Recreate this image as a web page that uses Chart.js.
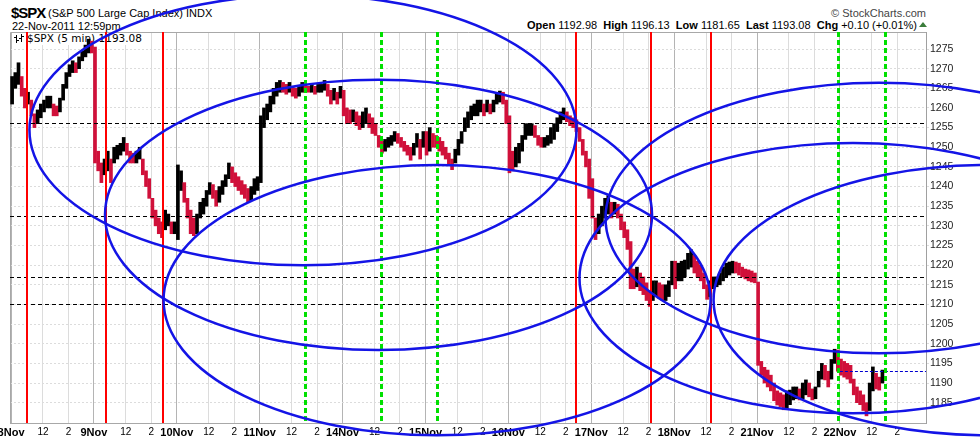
<!DOCTYPE html>
<html>
<head>
<meta charset="UTF-8">
<title>$SPX (5 min)</title>
<script src="https://cdn.jsdelivr.net/npm/chart.js"></script>
<style>
  body { margin: 0; background: #fff; font-family: "Liberation Sans", Arial, sans-serif; }
  #wrap { position: relative; width: 980px; height: 442px; }
  #wrap canvas { position: absolute; left: 0; top: 0; z-index: 2; }
  .t { position: absolute; z-index: 1; white-space: nowrap; color: #000; }
  .tri { position: absolute; z-index: 1; left: 919px; top: 22px; width: 0; height: 0;
         border-left: 4px solid transparent; border-right: 4px solid transparent; border-bottom: 5px solid #3b7d3b; }
</style>
</head>
<body>
<div id="wrap">
  <div class="t" style="left:11px;top:4px;font-size:15px;line-height:18px;font-weight:bold;letter-spacing:-1px">$SPX</div>
  <div class="t" style="left:48px;top:6px;font-size:11px;line-height:14px">(S&amp;P 500 Large Cap Index) INDX</div>
  <div class="t" style="left:12px;top:19px;font-size:11px;line-height:14px">22-Nov-2011 12:59pm</div>
  <div class="t" style="right:54px;top:6px;font-size:11px;line-height:14px;color:#444">© StockCharts.com</div>
  <div class="t" style="right:63px;top:18px;font-size:11px;line-height:14px"><b>Open</b> 1192.98 &nbsp;<b>High</b> 1196.13 &nbsp;<b>Low</b> 1181.65 &nbsp;<b>Last</b> 1193.08 &nbsp;<b>Chg</b> +0.10 (+0.01%)</div>
  <div class="tri"></div>
  <div class="t" style="left:27px;top:32px;font-family:'DejaVu Sans',sans-serif;font-size:10.5px;line-height:13px">$SPX (5 min) 1193.08</div>
  <canvas id="spx" width="980" height="442"></canvas>
</div>

<script>
  // sessions and x-axis tick labels
  const dayLabels = ['8Nov', '9Nov', '10Nov', '11Nov', '14Nov', '15Nov', '16Nov', '17Nov', '18Nov', '21Nov', '22Nov'];
  const hourLabels = ['12', '2'];
  const hourOffsets = [30, 54];          // 5-min bars after the 9:30 open
  const barsPerSession = 78;
  const barsPerSlot = 3;                 // values below are 15-minute ranges

  // 15-minute lows / highs, one row per session
  const lows = [
    [1261,1265,1266,1263,1260,1261,1258,1255,1256,1257.5,1259,1260,1260,1258,1258,1259,1262,1265,1268,1269,1269,1270,1272,1273,1274,1274],
    [1246,1244,1241,1243,1244,1241,1246,1247,1248,1249,1248,1246,1246,1246,1247,1243,1240,1237,1232,1230,1228,1227,1229,1230,1228,1228],
    [1226.5,1239,1236,1232,1228,1227.5,1228,1232,1233,1235,1238,1237,1235,1236,1238,1240,1242,1241,1240,1239,1238,1237,1236,1236.5,1238,1239],
    [1241,1255,1257,1259,1261,1263,1264,1264,1263.5,1264,1263,1262.5,1263,1264,1264,1264,1264,1263.5,1264,1264,1264.5,1263,1261,1262,1261,1262.5],
    [1258,1256,1256,1256.5,1255.5,1254.5,1255,1256,1255,1253.5,1253,1250,1248.5,1249,1250,1250.5,1251.5,1251,1250,1249,1248,1246.7,1248,1250,1247,1250],
    [1248,1249,1250,1250,1249,1248,1247,1245.5,1244.3,1246,1248,1251,1254,1255,1257,1258,1258,1259,1258,1259,1258.5,1259,1261,1261.5,1261,1256],
    [1243.5,1244,1245,1246,1249,1252,1253,1253,1252.5,1250.5,1250,1250,1250.5,1251,1252,1254,1256,1257,1256.5,1255.5,1255,1254,1251.5,1248,1245,1237],
    [1232,1226.5,1228,1230,1232,1233,1232,1233,1232,1229,1227,1224,1214,1214,1214.5,1213.5,1212.5,1211,1209.5,1211,1212,1211.5,1211,1211,1212,1215],
    [1214,1216,1216,1217,1219,1219.5,1218,1217,1216,1214,1211.3,1212,1214,1214.5,1215,1216,1217,1217.5,1218,1218,1217.5,1217,1216.5,1216,1215.7,1215.5],
    [1194.5,1192,1190,1189,1188,1185.5,1184.4,1184,1183.2,1183.5,1184.5,1185.7,1186,1185.7,1186,1187,1186.5,1185.7,1186,1189,1191,1190.8,1189,1191,1195,1193],
    [1192,1191.5,1191,1190,1187,1185,1184.5,1183,1181.65,1183,1188,1188.5,1188.2,1190]
  ];
  const highs = [
    [1268,1269,1271.5,1268,1265,1264,1262,1258.5,1259.5,1261,1262,1263,1263,1261,1260.5,1262.5,1266,1269,1271,1272,1271.5,1273,1274.5,1276,1277.5,1277],
    [1275.5,1249,1246,1247,1249,1247,1250,1250.5,1251,1252.5,1251,1249,1248.5,1249,1250,1247,1244,1242,1237,1234,1232,1231,1234,1233,1231,1231],
    [1245.5,1244,1241,1237,1234,1232,1233,1236,1237,1239,1241,1240.5,1239,1240,1241.5,1243,1246,1245,1243.5,1242.5,1241.5,1240.5,1239.5,1240,1242,1242.5],
    [1258,1260,1261,1263,1265,1266.5,1267,1266.5,1266,1266.5,1265.5,1265,1265.5,1266.5,1266,1265.5,1266,1265.5,1266,1266,1267,1266,1264.5,1265,1264,1265.5],
    [1264.5,1260,1259.5,1259.5,1259,1258,1259,1260,1258.5,1257.5,1256,1253,1251.5,1252,1252.5,1253,1254,1253.5,1252.5,1251.5,1250.5,1250,1251,1253.5,1252,1254],
    [1254,1255,1253.5,1253,1252.5,1251.5,1250,1248.5,1247,1249.5,1252,1254,1257.5,1259,1260.5,1261,1262,1262,1261,1262,1261,1262,1263.5,1264.3,1264,1262],
    [1258,1249,1250,1251,1253,1256,1256,1256,1255.5,1253,1252.5,1252.5,1253,1255,1256,1257.5,1259,1260,1259,1258,1257.5,1257,1255,1252,1249,1247],
    [1242,1232,1233,1235,1237,1237.7,1236,1236,1235.5,1233,1231,1229,1226,1219,1219.5,1218,1217,1215.5,1213.5,1216,1216,1215.5,1215,1215,1216,1221],
    [1221,1220.5,1221,1221.3,1223,1223.9,1222.5,1221,1220,1218,1215,1216,1217,1217,1218,1219.5,1220.5,1220.8,1221,1220.8,1220.5,1219.5,1219,1218.8,1218.5,1218],
    [1215.7,1195.5,1194,1193.3,1192,1190,1188,1187.5,1187,1188,1188.2,1189,1189,1188.5,1190,1190.8,1190,1188.5,1189,1193,1195,1194.5,1193,1196,1198.6,1198.4],
    [1196.1,1195.5,1195,1194.5,1191,1189,1188,1187,1185,1190,1194.1,1192.5,1191.5,1193.3]
  ];

  const priceTicks = [1185,1190,1195,1200,1205,1210,1215,1220,1225,1230,1235,1240,1245,1250,1255,1260,1265,1270,1275];
  const lastPrice = 1193.08;

  // annotations (bar index / price)
  const redLines = [15.0, 89.3, 143.0, 531.7, 602.2, 658.7];
  const greenLines = [276.6, 348.2, 400.8, 778.2, 822.5];
  const levels = [1256.1, 1232.5, 1216.9, 1210.1];
  const ellipseCenterX = [274.7, 345.8, 400.9, 816.8, 792.3, 918.5];
  const ellipseCenterY = [1254.4, 1232.8, 1211.1, 1232.0, 1216.7, 1211.1];
  const ellipseHalfBars = 257.4;
  const ellipseHalfPts = 34.4;

  const xMin = -1, xMax = 861, yMin = 1179.83, yMax = 1279.33;

  const bars = [], barColors = [];
  let prevMid = null;
  lows.forEach((day, d) => day.forEach((lo, k) => {
    const hi = highs[d][k];
    const mid = (lo + hi) / 2;
    bars.push({ x: d * barsPerSession + k * barsPerSlot + 1, y: [lo, hi] });
    barColors.push(prevMid === null || mid >= prevMid ? '#000000' : '#d0103a');
    prevMid = mid;
  }));

  const xTickVals = [], xTickText = [], xTickMajor = [];
  dayLabels.forEach((lab, d) => {
    xTickVals.push(d * barsPerSession); xTickText.push(lab); xTickMajor.push(true);
    hourOffsets.forEach((o, j) => {
      xTickVals.push(d * barsPerSession + o); xTickText.push(hourLabels[j]); xTickMajor.push(false);
    });
  });

  const FONT = '"Liberation Sans", Arial, sans-serif';

  const overlay = {
    id: 'overlay',
    beforeDatasetsDraw(chart) {
      const { ctx, chartArea: a } = chart;
      ctx.save();
      ctx.strokeStyle = '#a8a8a8';
      ctx.lineWidth = 1;
      ctx.beginPath();
      ctx.moveTo(a.left + 0.5, a.bottom + 0.5); ctx.lineTo(a.left + 0.5, a.top + 0.5); ctx.lineTo(a.right, a.top + 0.5);
      ctx.moveTo(a.left, a.bottom + 0.5); ctx.lineTo(a.right, a.bottom + 0.5);
      ctx.stroke();
      // legend box
      ctx.clearRect(13, 33, 138, 12);
      ctx.fillStyle = '#000';
      ctx.fillRect(16, 35, 1, 8); ctx.fillRect(14, 37, 2, 1); ctx.fillRect(17, 40, 2, 1);
      ctx.fillRect(21, 34, 1, 8); ctx.fillRect(19, 38, 2, 1); ctx.fillRect(22, 36, 2, 1);
      ctx.restore();
    },
    afterDatasetsDraw(chart) {
      const { ctx, chartArea: a, scales: { x, y } } = chart;
      ctx.save();
      ctx.lineWidth = 1;
      ctx.strokeStyle = '#000';
      ctx.setLineDash([4, 3]);
      levels.forEach(v => {
        const py = Math.round(y.getPixelForValue(v)) + 0.5;
        ctx.beginPath(); ctx.moveTo(a.left, py); ctx.lineTo(a.right, py); ctx.stroke();
      });
      ctx.strokeStyle = '#0000d0';
      ctx.setLineDash([3, 2]);
      const lp = Math.round(y.getPixelForValue(lastPrice)) + 0.5;
      ctx.beginPath(); ctx.moveTo(x.getPixelForValue((dayLabels.length - 1) * barsPerSession), lp); ctx.lineTo(a.right, lp); ctx.stroke();

      ctx.setLineDash([]);
      ctx.strokeStyle = '#ff0000';
      ctx.lineWidth = 2;
      redLines.forEach(v => {
        const px = Math.round(x.getPixelForValue(v));
        ctx.beginPath(); ctx.moveTo(px, a.top); ctx.lineTo(px, a.bottom); ctx.stroke();
      });
      ctx.setLineDash([5, 3]);
      ctx.strokeStyle = '#00e000';
      ctx.lineWidth = 3;
      greenLines.forEach(v => {
        const px = Math.round(x.getPixelForValue(v)) + 0.5;
        ctx.beginPath(); ctx.moveTo(px, a.top); ctx.lineTo(px, a.bottom); ctx.stroke();
      });
      ctx.restore();
    },
    afterDraw(chart) {
      const { ctx, scales: { x, y } } = chart;
      ctx.save();
      ctx.strokeStyle = '#1414e6';
      ctx.lineWidth = 2.5;
      ellipseCenterX.forEach((cx, i) => {
        const px = x.getPixelForValue(cx);
        const py = y.getPixelForValue(ellipseCenterY[i]);
        const rx = x.getPixelForValue(cx + ellipseHalfBars) - px;
        const ry = py - y.getPixelForValue(ellipseCenterY[i] + ellipseHalfPts);
        ctx.beginPath();
        ctx.ellipse(px, py, rx, ry, 0, 0, Math.PI * 2);
        ctx.stroke();
      });
      ctx.restore();
    }
  };

  new Chart(document.getElementById('spx'), {
    type: 'bar',
    data: {
      datasets: [{
        data: bars,
        backgroundColor: barColors,
        borderWidth: 0,
        barThickness: 3,
        grouped: false
      }]
    },
    options: {
      responsive: false,
      animation: false,
      layout: { padding: { left: 10, top: 32, right: 0, bottom: 0 } },
      plugins: { legend: { display: false }, tooltip: { enabled: false } },
      scales: {
        x: {
          type: 'linear',
          min: xMin,
          max: xMax,
          offset: false,
          afterBuildTicks: s => { s.ticks = xTickVals.map((v, i) => ({ value: v, major: xTickMajor[i] })); },
          afterFit: s => { s.height = 19; s.paddingLeft = 0; s.paddingRight = 0; },
          grid: {
            offset: false,
            drawTicks: false,
            color: c => (c.tick && c.tick.major) ? '#b4b4b4' : '#dcdcdc'
          },
          border: { display: false },
          ticks: {
            autoSkip: false,
            maxRotation: 0,
            padding: 3,
            color: '#000',
            font: c => xTickMajor[c.index] ? { family: FONT, size: 11, weight: 'bold' } : { family: FONT, size: 10 },
            callback: (v, i) => xTickText[i]
          }
        },
        y: {
          position: 'right',
          min: yMin,
          max: yMax,
          beginAtZero: false,
          afterBuildTicks: s => { s.ticks = priceTicks.map(v => ({ value: v })); },
          afterFit: s => { s.width = 54; s.paddingTop = 0; s.paddingBottom = 0; },
          grid: { color: '#dcdcdc', tickLength: 3 },
          border: { color: '#a0a0a0', dash: [2, 2] },
          ticks: {
            padding: 1,
            color: '#222',
            font: { family: FONT, size: 10.5 },
            callback: v => String(v)
          }
        }
      }
    },
    plugins: [overlay]
  });
</script>
</body>
</html>
